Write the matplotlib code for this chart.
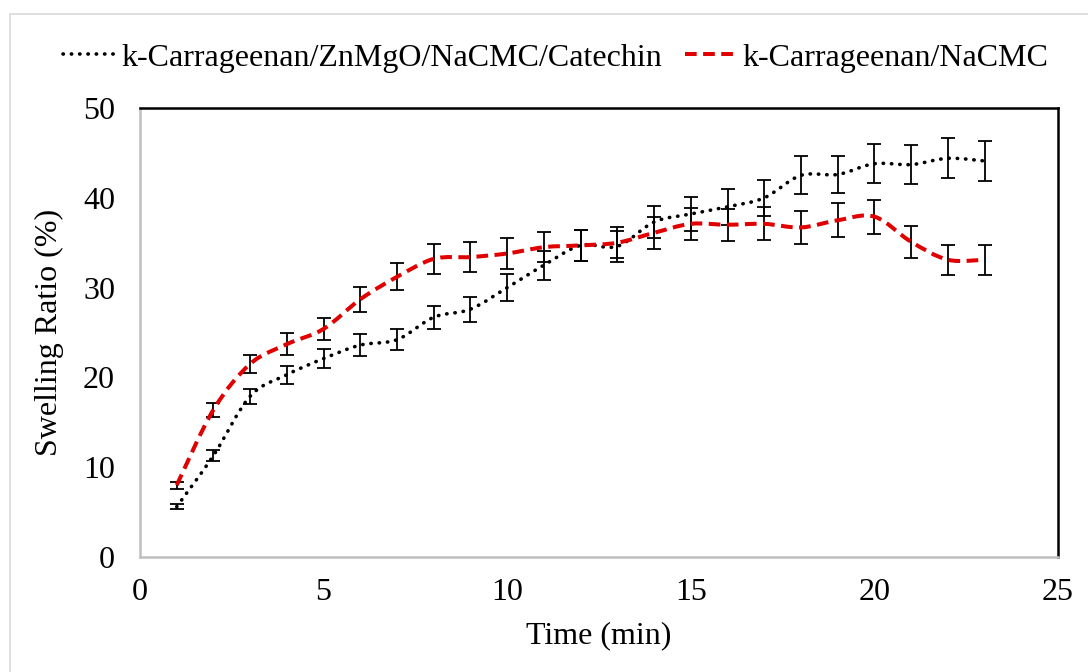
import numpy as np
import matplotlib
matplotlib.use("Agg")
import matplotlib.pyplot as plt
from matplotlib.path import Path
from matplotlib.patches import PathPatch, Rectangle
from matplotlib.lines import Line2D

plt.rcParams['font.family'] = ['Liberation Serif', 'DejaVu Serif']

time = [1, 2, 3, 4, 5, 6, 7, 8, 9, 10, 11, 12, 13, 14, 15, 16, 17, 18, 19, 20, 21, 22, 23]
cat_mean = [5.6, 11.3, 17.9, 20.3, 22.1, 23.6, 24.2, 26.7, 27.6, 30.0, 32.5, 34.7,
            34.6, 37.3, 38.2, 39.0, 40.0, 42.5, 42.6, 43.8, 43.7, 44.4, 44.1]
cat_err = [0.3, 0.6, 0.85, 1.0, 1.1, 1.2, 1.2, 1.3, 1.4, 1.5, 1.6, 1.7,
           1.75, 1.8, 1.9, 2.0, 2.0, 2.1, 2.1, 2.2, 2.2, 2.25, 2.2]
nacmc_mean = [8.0, 16.4, 21.5, 23.7, 25.4, 28.7, 31.2, 33.2, 33.4, 33.8, 34.5, 34.7,
              35.0, 36.1, 37.1, 37.0, 37.1, 36.7, 37.5, 37.9, 35.1, 33.1, 33.1]
nacmc_err = [0.4, 0.8, 1.05, 1.2, 1.25, 1.4, 1.5, 1.65, 1.65, 1.7, 1.7, 1.7,
             1.75, 1.8, 1.8, 1.8, 1.85, 1.85, 1.9, 1.9, 1.75, 1.66, 1.66]

labels = ['k-Carrageenan/ZnMgO/NaCMC/Catechin', 'k-Carrageenan/NaCMC']
FS = 23


def smooth_path(x, y):
    # excel-like smoothed line: catmull-rom segments as cubic beziers
    x = np.asarray(x, float)
    y = np.asarray(y, float)
    px = np.concatenate([[x[0]], x, [x[-1]]])
    py = np.concatenate([[y[0]], y, [y[-1]]])
    verts = [(x[0], y[0])]
    codes = [Path.MOVETO]
    for i in range(1, len(px) - 2):
        c1 = (px[i] + (px[i + 1] - px[i - 1]) / 6, py[i] + (py[i + 1] - py[i - 1]) / 6)
        c2 = (px[i + 1] - (px[i + 2] - px[i]) / 6, py[i + 1] - (py[i + 2] - py[i]) / 6)
        verts += [c1, c2, (px[i + 1], py[i + 1])]
        codes += [Path.CURVE4] * 3
    return Path(verts, codes)


fig = plt.figure(figsize=(10.88, 6.72), dpi=100)
ax = fig.add_axes([140 / 1088, 1 - 557 / 672, 918 / 1088, 449 / 672])

fig.patches.append(Rectangle((10 / 1088, -0.1), 1.2, 1 - 14 / 672 + 0.1,
                             transform=fig.transFigure, fill=False,
                             edgecolor='#d9d9d9', lw=1.2))

ax.errorbar(time, cat_mean, yerr=cat_err, fmt='none', ecolor='black',
            elinewidth=1.3, capsize=5, capthick=1.3, zorder=3)
ax.errorbar(time, nacmc_mean, yerr=nacmc_err, fmt='none', ecolor='black',
            elinewidth=1.3, capsize=5, capthick=1.3, zorder=3)

cat_ls = (0, (0.1, 2.2))
nacmc_ls = (0, (2.9, 1.6))
ax.add_patch(PathPatch(smooth_path(time, cat_mean), fill=False, edgecolor='black',
                       lw=2.6, ls=cat_ls, capstyle='round', zorder=4))
ax.add_patch(PathPatch(smooth_path(time, nacmc_mean), fill=False, edgecolor='#e00000',
                       lw=2.9, ls=nacmc_ls, zorder=4))

ax.set_xlim(0, 25)
ax.set_ylim(0, 50)
ax.set_xticks([0, 5, 10, 15, 20, 25])
ax.set_yticks([0, 10, 20, 30, 40, 50])
ax.tick_params(length=0, labelsize=FS, colors='black')
ax.tick_params(axis='x', pad=15)
ax.tick_params(axis='y', pad=18)
for s in ['left', 'bottom']:
    ax.spines[s].set_color('#bfbfbf')
    ax.spines[s].set_linewidth(1.8)
for s in ['top', 'right']:
    ax.spines[s].set_color('black')
    ax.spines[s].set_linewidth(1.8)

ax.set_xlabel('Time (min)', fontsize=FS, labelpad=10)
ax.set_ylabel('Swelling Ratio (%)', fontsize=FS, labelpad=14)

handles = [Line2D([], [], color='black', lw=2.6, ls=cat_ls, dash_capstyle='round'),
           Line2D([], [], color='#e00000', lw=2.9, ls=nacmc_ls)]
fig.legend(handles, labels, loc='center', bbox_to_anchor=(556 / 1088, 1 - 58 / 672), ncol=2,
           frameon=False, fontsize=FS, handlelength=1.6, handletextpad=0.22,
           columnspacing=0.7)

fig.savefig('out.png', dpi=100)
